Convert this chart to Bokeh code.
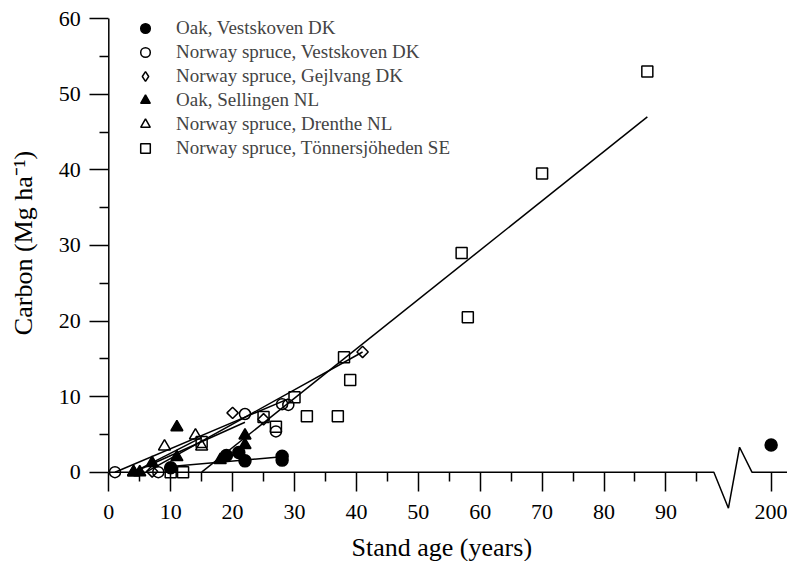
import math
from bokeh.plotting import figure
from bokeh.models import LinearAxis, FixedTicker, Legend, LegendItem, Label
from bokeh.embed import file_html
from bokeh.resources import INLINE

# ---------------- data ----------------
oak_vest_x = [10, 19, 21, 22, 28, 28, 200]
oak_vest_y = [0.6, 2.2, 2.6, 1.5, 1.6, 2.1, 3.6]

spruce_vest_x = [1, 8, 22, 27, 28, 29]
spruce_vest_y = [0.0, 0.0, 7.7, 5.4, 9.0, 8.9]

spruce_gej_x = [7, 20, 25, 41]
spruce_gej_y = [0.1, 7.85, 7.0, 15.9]

oak_sell_x = [4, 5, 7, 11, 11, 18, 22, 22]
oak_sell_y = [0.0, 0.0, 1.2, 5.95, 2.0, 1.6, 4.85, 3.6]

spruce_dren_x = [4, 9, 14, 15]
spruce_dren_y = [0.0, 3.4, 4.85, 3.4]

spruce_ton_x = [10, 12, 15, 25, 27, 30, 32, 37, 38, 39, 57, 58, 70, 87]
spruce_ton_y = [0.0, 0.0, 4.0, 7.3, 6.0, 9.9, 7.4, 7.4, 15.2, 12.2, 29.0, 20.5, 39.5, 53.0]

# fitted lines (start / end)
fit_oak_vest_x = [10, 28]
fit_oak_vest_y = [0.75, 2.05]
fit_spruce_vest_x = [1, 29]
fit_spruce_vest_y = [0.0, 9.7]
fit_spruce_gej_x = [6, 41]
fit_spruce_gej_y = [0.0, 15.9]
fit_oak_sell_x = [4, 22]
fit_oak_sell_y = [0.0, 6.6]
fit_spruce_dren_x = [4, 15]
fit_spruce_dren_y = [0.0, 4.6]
fit_spruce_ton_x = [15, 87]
fit_spruce_ton_y = [0.0, 47.0]

labels = ["Oak, Vestskoven DK", "Norway spruce, Vestskoven DK", "Norway spruce, Gejlvang DK",
          "Oak, Sellingen NL", "Norway spruce, Drenthe NL", "Norway spruce, Tönnersjöheden SE"]

x_tick_values = [0, 10, 20, 30, 40, 50, 60, 70, 80, 90, 200]
x_minor_values = [5, 15, 25, 35, 45, 55, 65, 75, 85, 95]
y_tick_values = [0, 10, 20, 30, 40, 50, 60]
y_minor_values = [5, 15, 25, 35, 45, 55]

# ---------------- broken x axis mapping ----------------
BREAK_POS = 107.0   # plotting position of 200


def xpos(v):
    return v if v < 100 else BREAK_POS + (v - 200) * 0.2


PX_X = 6.19
PX_Y = 7.56
X0_PX = 108.3
Y0_PX = 471.7
W, H = 787, 561
FONT = "Liberation Serif"

p = figure(width=W, height=H,
           x_range=(-X0_PX / PX_X, (W - X0_PX) / PX_X),
           y_range=((Y0_PX - H) / PX_Y, Y0_PX / PX_Y),
           output_backend="svg", toolbar_location=None,
           x_axis_location=None, y_axis_location=None,
           min_border=0, outline_line_color=None)
p.grid.visible = False
p.background_fill_color = "white"

# axes (ticks + labels)
xaxis = LinearAxis(fixed_location=0,
                   ticker=FixedTicker(ticks=[xpos(v) for v in x_tick_values],
                                      minor_ticks=[xpos(v) for v in x_minor_values]),
                   major_label_overrides={xpos(v): str(v) for v in x_tick_values})
yaxis = LinearAxis(fixed_location=0,
                   ticker=FixedTicker(ticks=y_tick_values, minor_ticks=y_minor_values))
for ax in (xaxis, yaxis):
    ax.axis_line_color = None
    ax.major_tick_line_color = "black"
    ax.minor_tick_line_color = "black"
    ax.major_tick_line_width = 1.5
    ax.minor_tick_line_width = 1.5
    ax.major_tick_in = 0
    ax.major_tick_out = 19
    ax.minor_tick_in = 0
    ax.minor_tick_out = 9
    ax.major_label_text_font = FONT
    ax.major_label_text_font_size = "22px"
    ax.major_label_text_color = "black"
xaxis.major_label_standoff = 14
yaxis.major_label_standoff = 9
p.add_layout(xaxis, "below")
p.add_layout(yaxis, "left")

# axis lines (with break on x)
p.line([0, 97.75, 100.1, 101.9, 103.9, (W - X0_PX) / PX_X], [0, 0, -4.76, 3.3, 0, 0],
       line_color="black", line_width=1.5)
p.line([0, 0], [0, 60], line_color="black", line_width=1.5)

# fitted lines
for fx, fy in [(fit_oak_vest_x, fit_oak_vest_y), (fit_spruce_vest_x, fit_spruce_vest_y),
               (fit_spruce_gej_x, fit_spruce_gej_y), (fit_oak_sell_x, fit_oak_sell_y),
               (fit_spruce_dren_x, fit_spruce_dren_y), (fit_spruce_ton_x, fit_spruce_ton_y)]:
    p.line(fx, fy, line_color="black", line_width=1.5)

# scatter series
r1 = p.scatter([xpos(v) for v in oak_vest_x], oak_vest_y, marker="circle", size=12,
               fill_color="black", line_color="black", line_width=1.5)
r2 = p.scatter(spruce_vest_x, spruce_vest_y, marker="circle", size=11,
               fill_color=None, line_color="black", line_width=1.5)
r3 = p.scatter(spruce_gej_x, spruce_gej_y, marker="square", angle=math.pi / 4, size=8,
               fill_color=None, line_color="black", line_width=1.5)
# same series as a (hidden) diamond renderer, used for its legend symbol
r3_key = p.scatter(spruce_gej_x, spruce_gej_y, marker="diamond", size=12,
                   fill_color=None, line_color="black", line_width=1.5, visible=False)
r4 = p.scatter(oak_sell_x, oak_sell_y, marker="triangle", size=12,
               fill_color="black", line_color="black", line_width=1.5)
r5 = p.scatter(spruce_dren_x, spruce_dren_y, marker="triangle", size=12,
               fill_color=None, line_color="black", line_width=1.5)
r6 = p.scatter(spruce_ton_x, spruce_ton_y, marker="square", size=11,
               fill_color=None, line_color="black", line_width=1.5)

legend = Legend(items=[LegendItem(label=lab, renderers=[r]) for lab, r in
                       zip(labels, [r1, r2, r3_key, r4, r5, r6])],
                location=(133, 401.5), padding=0, margin=0, spacing=0,
                glyph_width=24, glyph_height=24, label_height=24, label_standoff=19,
                label_text_font=FONT, label_text_font_size="19px",
                border_line_color=None, background_fill_alpha=0, click_policy="none")
p.add_layout(legend)

# axis titles
p.add_layout(Label(x=(23 - X0_PX) / PX_X, y=(Y0_PX - 242.5) / PX_Y, text="Carbon (Mg ha⁻¹)",
                   angle=math.pi / 2, text_align="center", text_baseline="middle",
                   text_font=FONT, text_font_size="26px", text_color="black"))
p.add_layout(Label(x=(441.3 - X0_PX) / PX_X, y=(Y0_PX - 546.9) / PX_Y, text="Stand age (years)",
                   text_align="center", text_baseline="middle",
                   text_font=FONT, text_font_size="26px", text_color="black"))

open("out.html", "w").write(file_html(p, INLINE))
